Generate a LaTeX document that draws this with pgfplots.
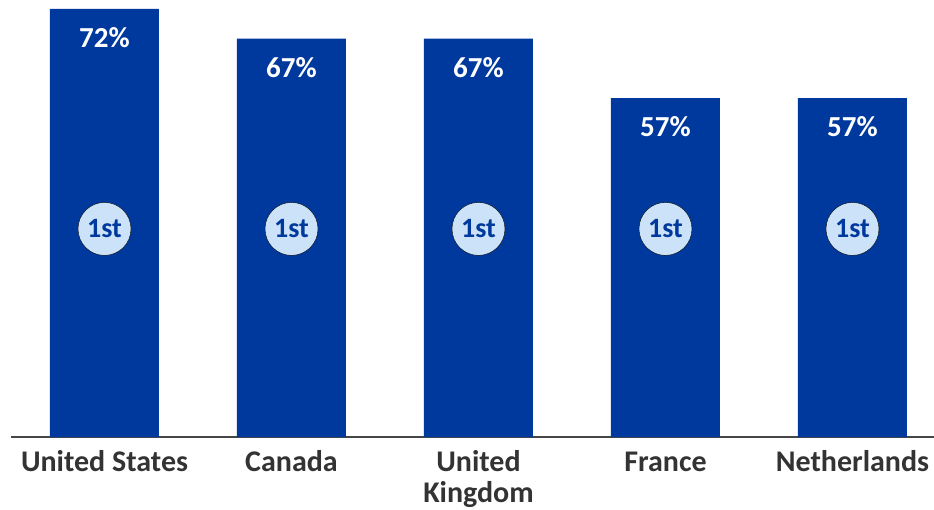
\documentclass[border=0pt]{standalone}
\usepackage{pgfplots}
\pgfplotsset{compat=1.18}
\usepackage{fontspec}
\setmainfont{Carlito}
\definecolor{barblue}{RGB}{0,57,158}
\definecolor{circblue}{RGB}{204,226,248}
\definecolor{labgray}{RGB}{51,51,51}
\definecolor{axgray}{RGB}{70,70,70}
\begin{document}
\begin{tikzpicture}[x=1pt,y=1pt]
\useasboundingbox (0,0) rectangle (934,509);
\begin{axis}[
  at={(11pt,72pt)}, anchor=south west,
  scale only axis, width=923pt, height=437pt,
  xmin=-0.5, xmax=4.436, ymin=0, ymax=73.5,
  axis y line=none, axis x line*=bottom,
  x axis line style={axgray, line width=2pt, -},
  xtick={0,1,2,3,4}, major tick length=0pt,
  xticklabels={United States, Canada, United\\Kingdom, \vphantom{d}France, Netherlands},
  xticklabel style={font=\fontsize{30}{31}\selectfont\bfseries, text=labgray, align=center, anchor=north, yshift=-10pt},
  /pgf/number format/assume math mode=true,
  clip=false,
]
\addplot[ybar, bar width=109pt, fill=barblue, draw=none,
  point meta=y, nodes near coords={\pgfmathprintnumber{\pgfplotspointmeta}\%},
  nodes near coords style={anchor=center, yshift=-29pt, text=white, font=\fontsize{29}{33}\selectfont\bfseries}]
  coordinates {(0,72) (1,67) (2,67) (3,57) (4,57)};
\addplot[only marks, mark=*, mark size=26.5pt, mark options={fill=circblue, draw=none},
  nodes near coords={1st},
  nodes near coords style={anchor=center, text=barblue, font=\fontsize{28}{32}\selectfont\bfseries}]
  coordinates {(0,35) (1,35) (2,35) (3,35) (4,35)};
\end{axis}
\end{tikzpicture}
\end{document}
